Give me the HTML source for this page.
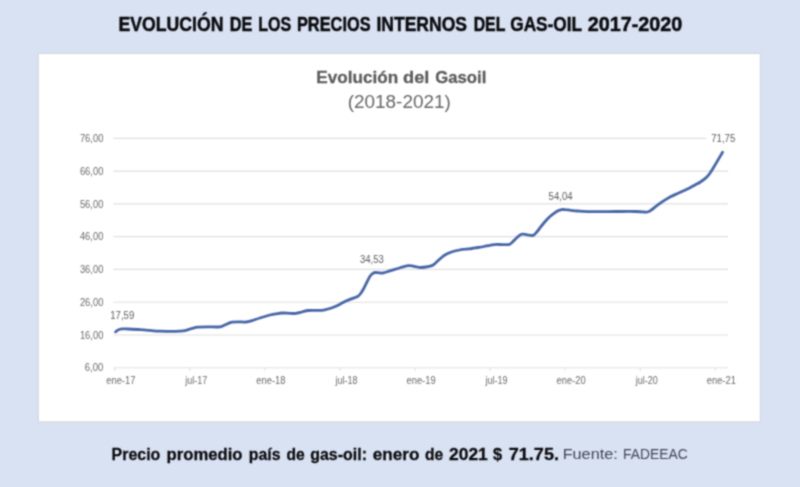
<!DOCTYPE html>
<html lang="es"><head><meta charset="utf-8"><title>Evolución de los precios internos del gas-oil 2017-2020</title>
<style>
html,body{margin:0;padding:0;}
body{width:800px;height:487px;background:#d9e2f3;overflow:hidden;font-family:"Liberation Sans",sans-serif;}
svg{display:block;font-family:"Liberation Sans",sans-serif;}
.soft2{filter:url(#bs);}
</style></head>
<body>
<svg width="800" height="487" viewBox="0 0 800 487">
<defs>
<filter id="bs" x="-5%" y="-5%" width="110%" height="110%" color-interpolation-filters="sRGB"><feConvolveMatrix order="3" kernelMatrix="1 2 1 2 6 2 1 2 1" divisor="18" preserveAlpha="false" edgeMode="none"/></filter>
</defs>
<rect x="0" y="0" width="800" height="487" fill="#d9e2f3"/>
<rect class="soft2" x="38.2" y="53.4" width="722.2" height="368.5" fill="#ffffff" stroke="#d3d7df" stroke-width="1.2"/>
<g class="soft2">
<text y="30.7" font-size="20.6" font-weight="bold" fill="#0b0b0d" stroke="#0b0b0d" stroke-width="0.5" xml:space="default"><tspan x="118.54" textLength="104.95" lengthAdjust="spacingAndGlyphs">EVOLUCIÓN</tspan> <tspan x="229.81" textLength="22.68" lengthAdjust="spacingAndGlyphs">DE</tspan> <tspan x="258.22" textLength="32.95" lengthAdjust="spacingAndGlyphs">LOS</tspan> <tspan x="296.96" textLength="73.63" lengthAdjust="spacingAndGlyphs">PRECIOS</tspan> <tspan x="376.40" textLength="90.63" lengthAdjust="spacingAndGlyphs">INTERNOS</tspan> <tspan x="473.64" textLength="31.40" lengthAdjust="spacingAndGlyphs">DEL</tspan> <tspan x="510.25" textLength="71.48" lengthAdjust="spacingAndGlyphs">GAS-OIL</tspan> <tspan x="587.80" textLength="94.54" lengthAdjust="spacingAndGlyphs">2017-2020</tspan></text>
<text y="459.7" font-size="17.4" font-weight="bold" fill="#0b0b0d" stroke="#0b0b0d" stroke-width="0.3" xml:space="default"><tspan x="111.58" textLength="48.74" lengthAdjust="spacingAndGlyphs">Precio</tspan> <tspan x="166.54" textLength="75.96" lengthAdjust="spacingAndGlyphs">promedio</tspan> <tspan x="248.84" textLength="31.78" lengthAdjust="spacingAndGlyphs">país</tspan> <tspan x="286.50" textLength="18.21" lengthAdjust="spacingAndGlyphs">de</tspan> <tspan x="310.25" textLength="56.73" lengthAdjust="spacingAndGlyphs">gas-oil:</tspan> <tspan x="372.75" textLength="46.61" lengthAdjust="spacingAndGlyphs">enero</tspan> <tspan x="425.00" textLength="18.21" lengthAdjust="spacingAndGlyphs">de</tspan> <tspan x="449.00" textLength="38.77" lengthAdjust="spacingAndGlyphs">2021</tspan> <tspan x="493.10" textLength="9.09" lengthAdjust="spacingAndGlyphs">$</tspan> <tspan x="508.75" textLength="50.21" lengthAdjust="spacingAndGlyphs">71.75.</tspan></text>
<text y="458.6" font-size="15.1" fill="#414754" xml:space="default"><tspan x="562.67" textLength="55.11" lengthAdjust="spacingAndGlyphs">Fuente:</tspan> <tspan x="623.08" textLength="64.58" lengthAdjust="spacingAndGlyphs">FADEEAC</tspan></text>
<text y="83.1" font-size="17.4" font-weight="bold" fill="#5c5c5c" stroke="#5c5c5c" stroke-width="0.3" xml:space="default"><tspan x="316.27" textLength="81.85" lengthAdjust="spacingAndGlyphs">Evolución</tspan> <tspan x="403.00" textLength="26.37" lengthAdjust="spacingAndGlyphs">del</tspan> <tspan x="435.25" textLength="51.15" lengthAdjust="spacingAndGlyphs">Gasoil</tspan></text>
<text y="107.7" font-size="18" fill="#666666" xml:space="default"><tspan x="347.70" textLength="103.10" lengthAdjust="spacingAndGlyphs">(2018-2021)</tspan></text>
</g>
<g class="soft2">
<line x1="113.3" x2="728" y1="138.40" y2="138.40" stroke="#e0e0e0" stroke-width="1.15"/>
<line x1="113.3" x2="728" y1="171.16" y2="171.16" stroke="#e0e0e0" stroke-width="1.15"/>
<line x1="113.3" x2="728" y1="203.92" y2="203.92" stroke="#e0e0e0" stroke-width="1.15"/>
<line x1="113.3" x2="728" y1="236.68" y2="236.68" stroke="#e0e0e0" stroke-width="1.15"/>
<line x1="113.3" x2="728" y1="269.44" y2="269.44" stroke="#e0e0e0" stroke-width="1.15"/>
<line x1="113.3" x2="728" y1="302.20" y2="302.20" stroke="#e0e0e0" stroke-width="1.15"/>
<line x1="113.3" x2="728" y1="334.96" y2="334.96" stroke="#e0e0e0" stroke-width="1.15"/>
<line x1="113.3" x2="728" y1="367.72" y2="367.72" stroke="#e0e0e0" stroke-width="1.15"/>
<line x1="114.80" x2="114.80" y1="367.7" y2="370.7" stroke="#e0e0e0" stroke-width="1.15"/>
<line x1="189.86" x2="189.86" y1="367.7" y2="370.7" stroke="#e0e0e0" stroke-width="1.15"/>
<line x1="264.92" x2="264.92" y1="367.7" y2="370.7" stroke="#e0e0e0" stroke-width="1.15"/>
<line x1="339.98" x2="339.98" y1="367.7" y2="370.7" stroke="#e0e0e0" stroke-width="1.15"/>
<line x1="415.04" x2="415.04" y1="367.7" y2="370.7" stroke="#e0e0e0" stroke-width="1.15"/>
<line x1="490.10" x2="490.10" y1="367.7" y2="370.7" stroke="#e0e0e0" stroke-width="1.15"/>
<line x1="565.16" x2="565.16" y1="367.7" y2="370.7" stroke="#e0e0e0" stroke-width="1.15"/>
<line x1="640.22" x2="640.22" y1="367.7" y2="370.7" stroke="#e0e0e0" stroke-width="1.15"/>
<line x1="715.28" x2="715.28" y1="367.7" y2="370.7" stroke="#e0e0e0" stroke-width="1.15"/>
<rect x="706" y="132" width="35" height="12.5" fill="#ffffff"/>
</g>
<g class="soft2">
<text x="79.90" y="142.15" font-size="10.5" fill="#6a6a6a" textLength="23.46" lengthAdjust="spacingAndGlyphs">76,00</text>
<text x="79.90" y="174.91" font-size="10.5" fill="#6a6a6a" textLength="23.46" lengthAdjust="spacingAndGlyphs">66,00</text>
<text x="79.90" y="207.67" font-size="10.5" fill="#6a6a6a" textLength="23.46" lengthAdjust="spacingAndGlyphs">56,00</text>
<text x="79.90" y="240.43" font-size="10.5" fill="#6a6a6a" textLength="23.46" lengthAdjust="spacingAndGlyphs">46,00</text>
<text x="79.90" y="273.19" font-size="10.5" fill="#6a6a6a" textLength="23.46" lengthAdjust="spacingAndGlyphs">36,00</text>
<text x="79.90" y="305.95" font-size="10.5" fill="#6a6a6a" textLength="23.46" lengthAdjust="spacingAndGlyphs">26,00</text>
<text x="79.90" y="338.71" font-size="10.5" fill="#6a6a6a" textLength="23.46" lengthAdjust="spacingAndGlyphs">16,00</text>
<text x="84.80" y="371.47" font-size="10.5" fill="#6a6a6a" textLength="18.55" lengthAdjust="spacingAndGlyphs">6,00</text>
<text x="106.25" y="383.9" font-size="10.1" fill="#6a6a6a" textLength="29.14" lengthAdjust="spacingAndGlyphs">ene-17</text>
<text x="185.35" y="383.9" font-size="10.1" fill="#6a6a6a" textLength="21.97" lengthAdjust="spacingAndGlyphs">jul-17</text>
<text x="256.37" y="383.9" font-size="10.1" fill="#6a6a6a" textLength="29.14" lengthAdjust="spacingAndGlyphs">ene-18</text>
<text x="335.47" y="383.9" font-size="10.1" fill="#6a6a6a" textLength="21.97" lengthAdjust="spacingAndGlyphs">jul-18</text>
<text x="406.49" y="383.9" font-size="10.1" fill="#6a6a6a" textLength="29.14" lengthAdjust="spacingAndGlyphs">ene-19</text>
<text x="485.59" y="383.9" font-size="10.1" fill="#6a6a6a" textLength="21.97" lengthAdjust="spacingAndGlyphs">jul-19</text>
<text x="556.61" y="383.9" font-size="10.1" fill="#6a6a6a" textLength="29.14" lengthAdjust="spacingAndGlyphs">ene-20</text>
<text x="635.71" y="383.9" font-size="10.1" fill="#6a6a6a" textLength="21.97" lengthAdjust="spacingAndGlyphs">jul-20</text>
<text x="706.73" y="383.9" font-size="10.1" fill="#6a6a6a" textLength="29.14" lengthAdjust="spacingAndGlyphs">ene-21</text>
<text x="110.30" y="319.2" font-size="10.0" fill="#5c5c5c" textLength="23.98" lengthAdjust="spacingAndGlyphs">17,59</text>
<text x="359.90" y="263.40000000000003" font-size="10.0" fill="#5c5c5c" textLength="23.98" lengthAdjust="spacingAndGlyphs">34,53</text>
<text x="548.60" y="199.5" font-size="10.0" fill="#5c5c5c" textLength="23.98" lengthAdjust="spacingAndGlyphs">54,04</text>
<text x="711.30" y="141.5" font-size="10.0" fill="#5c5c5c" textLength="23.98" lengthAdjust="spacingAndGlyphs">71,75</text>
</g>
<path class="soft2" d="M115.6 331.8C116.0 331.5 116.9 330.5 118.0 330.0C119.1 329.5 120.3 329.1 122.0 328.9C123.7 328.7 125.0 328.9 128.0 329.0C131.0 329.1 136.3 329.4 140.0 329.6C143.7 329.8 146.7 330.1 150.0 330.4C153.3 330.7 156.3 331.0 160.0 331.2C163.7 331.4 168.7 331.3 172.0 331.3C175.3 331.3 177.7 331.4 180.0 331.2C182.3 331.0 184.0 330.8 186.0 330.3C188.0 329.8 190.0 328.9 192.0 328.4C194.0 327.9 195.3 327.4 198.0 327.1C200.7 326.9 204.7 326.9 208.0 326.9C211.3 326.9 215.7 327.1 218.0 327.0C220.3 326.9 220.5 326.8 222.0 326.3C223.5 325.8 225.3 324.7 227.0 324.0C228.7 323.3 230.2 322.6 232.0 322.2C233.8 321.8 235.7 321.8 238.0 321.8C240.3 321.8 243.7 322.2 246.0 322.0C248.3 321.8 249.7 321.3 252.0 320.6C254.3 319.9 257.0 318.9 260.0 318.0C263.0 317.1 267.3 315.7 270.0 315.0C272.7 314.3 274.0 314.1 276.0 313.8C278.0 313.5 279.7 313.1 282.0 313.0C284.3 312.9 287.7 313.3 290.0 313.4C292.3 313.5 294.0 313.6 296.0 313.4C298.0 313.2 300.0 312.5 302.0 312.0C304.0 311.5 305.8 310.8 308.0 310.5C310.2 310.2 312.7 310.3 315.0 310.3C317.3 310.3 319.8 310.5 322.0 310.3C324.2 310.1 326.0 309.6 328.0 309.0C330.0 308.4 332.0 307.8 334.0 307.0C336.0 306.2 338.0 305.2 340.0 304.2C342.0 303.2 344.0 301.9 346.0 301.0C348.0 300.1 350.0 299.4 352.0 298.6C354.0 297.8 356.5 297.1 358.0 296.2C359.5 295.3 360.0 294.4 361.0 293.0C362.0 291.6 363.0 289.8 364.0 288.0C365.0 286.2 366.0 283.9 367.0 282.0C368.0 280.1 369.1 277.7 370.0 276.3C370.9 274.9 371.7 274.2 372.5 273.6C373.3 273.0 373.9 272.6 375.0 272.5C376.1 272.4 377.7 272.7 379.0 272.8C380.3 272.9 381.3 273.3 383.0 273.0C384.7 272.7 386.8 271.9 389.0 271.2C391.2 270.5 393.8 269.7 396.0 269.0C398.2 268.3 400.0 267.8 402.0 267.2C404.0 266.6 406.3 265.9 408.0 265.7C409.7 265.5 410.7 265.6 412.0 265.8C413.3 266.0 414.6 266.5 416.0 266.8C417.4 267.1 418.8 267.5 420.5 267.5C422.2 267.5 424.1 267.3 426.0 267.0C427.9 266.7 430.3 266.2 431.8 265.6C433.3 265.0 433.8 264.5 435.0 263.5C436.2 262.5 437.7 261.0 439.0 259.8C440.3 258.6 441.6 257.3 443.0 256.3C444.4 255.3 445.5 254.5 447.2 253.7C448.9 252.9 450.9 252.1 453.0 251.5C455.1 250.9 457.6 250.4 459.6 250.0C461.6 249.6 462.9 249.4 465.0 249.2C467.1 248.9 469.7 248.8 471.9 248.5C474.1 248.2 475.9 247.8 478.0 247.5C480.1 247.2 482.2 246.9 484.2 246.5C486.2 246.1 487.9 245.7 490.0 245.3C492.1 245.0 494.5 244.5 496.5 244.4C498.5 244.3 499.9 244.6 502.0 244.6C504.1 244.6 507.1 244.9 508.8 244.6C510.5 244.2 510.8 243.5 512.0 242.5C513.2 241.5 514.8 239.6 516.0 238.5C517.2 237.4 518.0 236.5 519.0 235.8C520.0 235.1 520.9 234.4 522.2 234.2C523.5 234.0 525.3 234.6 527.0 234.8C528.7 235.0 531.2 235.6 532.5 235.5C533.8 235.4 534.1 234.8 535.0 234.0C535.9 233.2 536.6 232.2 537.6 231.0C538.6 229.8 539.6 228.2 541.0 226.5C542.4 224.8 544.3 222.5 545.8 220.8C547.3 219.1 548.6 217.7 550.0 216.5C551.4 215.3 552.7 214.3 554.0 213.4C555.3 212.5 556.8 211.4 558.0 210.8C559.2 210.2 560.3 209.8 561.5 209.6C562.7 209.4 563.4 209.5 565.0 209.6C566.6 209.7 568.9 210.2 571.0 210.4C573.1 210.6 574.3 210.8 577.5 211.0C580.7 211.2 585.9 211.6 590.0 211.7C594.1 211.8 597.8 211.6 602.0 211.6C606.2 211.6 609.5 211.5 615.0 211.5C620.5 211.5 630.5 211.4 635.0 211.5C639.5 211.6 639.9 211.8 642.0 211.9C644.1 212.0 646.0 212.3 647.5 212.0C649.0 211.7 649.3 211.4 651.0 210.3C652.7 209.2 655.3 206.8 657.5 205.2C659.7 203.6 661.9 202.0 664.0 200.6C666.1 199.2 668.0 198.1 670.0 197.0C672.0 195.9 673.9 195.1 676.0 194.2C678.1 193.2 680.3 192.3 682.5 191.3C684.7 190.3 686.9 189.2 689.0 188.2C691.1 187.1 693.2 186.0 695.0 185.0C696.8 184.0 698.3 183.3 700.0 182.2C701.7 181.1 703.6 179.8 705.0 178.6C706.4 177.4 707.5 176.4 708.5 175.2C709.5 174.0 710.3 172.7 711.2 171.3C712.2 169.9 712.9 168.7 714.0 166.8C715.1 164.9 716.6 162.4 718.0 160.0C719.4 157.6 721.8 153.6 722.5 152.3" fill="none" stroke="#4766a8" stroke-width="2.8" stroke-linecap="round" stroke-linejoin="round"/>
</svg>
</body></html>
